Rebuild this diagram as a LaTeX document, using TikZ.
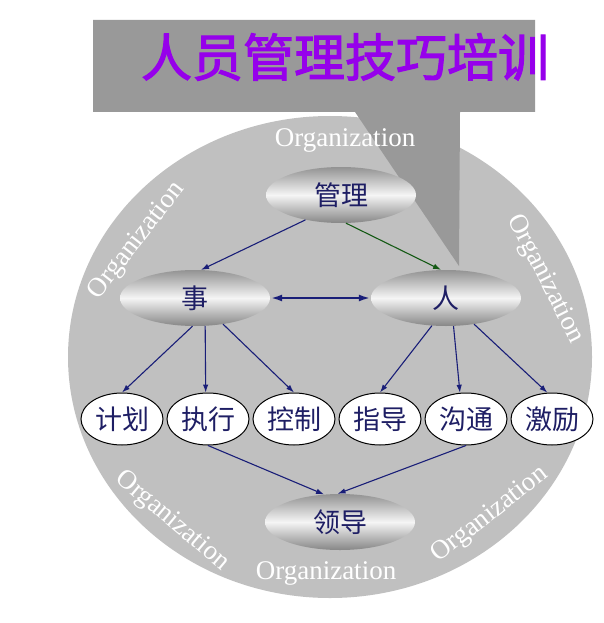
\documentclass[tikz,border=0pt]{standalone}
\usepackage{fontspec}
\setmainfont{Liberation Serif}
\newfontfamily\cjk{Noto Sans CJK SC}
\newfontfamily\cjktitle{Noto Sans CJK SC}[FakeBold=2.2]
\usepackage{xcolor}
\usepackage{tikz}
\usetikzlibrary{shapes.geometric,arrows.meta,positioning}

\definecolor{ringgray}{RGB}{192,192,192}
\definecolor{calloutgray}{RGB}{153,153,153}
\definecolor{titlepurple}{RGB}{150,0,235}
\definecolor{navyline}{RGB}{25,30,120}
\definecolor{navytext}{RGB}{30,30,100}
\definecolor{greenline}{RGB}{20,90,20}

\begin{document}
\begin{tikzpicture}[
    x=1pt, y=-1pt,
    bigell/.style={ellipse, minimum width=150pt, minimum height=56pt, inner sep=0pt, top color=gray!85, bottom color=gray!95, middle color=gray!8, text=navytext, font=\cjk\fontsize{27}{27}\selectfont},
    smallell/.style={ellipse, draw=black, line width=1pt, fill=white, minimum width=82pt, minimum height=52pt, inner sep=0pt, text=navytext, font=\cjk\fontsize{27}{27}\selectfont},
    orglabel/.style={text=white, inner sep=0pt, font=\fontsize{27}{27}\selectfont},
    link/.style={-{Latex[length=8pt,width=5.5pt]}, navyline, line width=1.1pt}
]
    \useasboundingbox (0,0) rectangle (603,623);

    % Background
    \fill[ringgray] (330,357) ellipse [x radius=262pt, y radius=241pt];
    \fill[calloutgray] (93,20) -- (535,20) -- (535,112) -- (460,112) -- (459,266) -- (355,112) -- (93,112) -- cycle;
    \node[text=titlepurple, font=\cjktitle\fontsize{51}{51}\selectfont, inner sep=0pt] (title) at (345,57) {人员管理技巧培训};

    % Labels
    \node[orglabel] (orgtop) at (345,140) {Organization};
    \node[orglabel, rotate=52] (orgul) at (137,241) {Organization};
    \node[orglabel, rotate=-63] (orgur) at (545,279) {Organization};
    \node[orglabel, rotate=-40] (orgll) at (172,521) {Organization};
    \node[orglabel] (orgbot) at (326,573) {Organization};
    \node[orglabel, rotate=38] (orglr) at (490,515) {Organization};

    % Nodes
    \node[bigell] (guanli) at (341,195) {管理};
    \node[bigell] (shi) at (195,298) {事};
    \node[bigell] (ren) at (446,298) {人};
    \node[smallell] (jihua) at (122,419) {计划};
    \node[smallell, right=3pt of jihua] (zhixing) {执行};
    \node[smallell, right=3pt of zhixing] (kongzhi) {控制};
    \node[smallell, right=3pt of kongzhi] (zhidao) {指导};
    \node[smallell, right=3pt of zhidao] (goutong) {沟通};
    \node[smallell, right=3pt of goutong] (jili) {激励};
    \node[bigell] (lingdao) at (340,522) {领导};

    % Arrows
    \draw[link] (guanli.215) -- (shi.78);
    \draw[link, greenline] (guanli.280) -- (ren.100);
    \draw[{Latex[length=12pt,width=7pt]}-{Latex[length=12pt,width=7pt]}, navyline, line width=2.5pt] (shi.east) -- (ren.west);
    \draw[link] (shi.265) -- (jihua.north);
    \draw[link] (shi.290) -- (zhixing.95);
    \draw[link] (shi.317) -- (kongzhi.north);
    \draw[link] (ren.243) -- (zhidao.north);
    \draw[link] (ren.285) -- (goutong.103);
    \draw[link] (ren.317) -- (jili.100);
    \draw[link] (zhixing.south) -- (lingdao.120);
    \draw[link] (goutong.south) -- (lingdao.95);
\end{tikzpicture}
\end{document}
